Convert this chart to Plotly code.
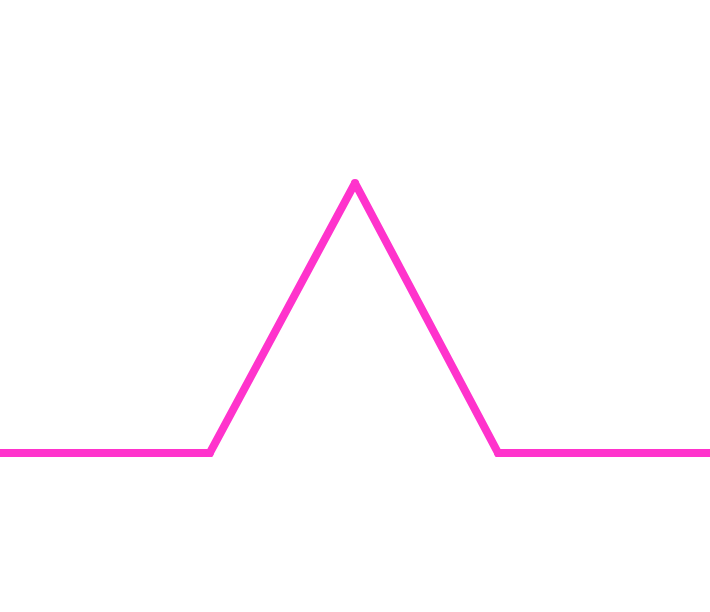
import plotly.graph_objects as go

x_vals = [-1.0, -0.409, 0.0, 0.403, 1.0]
y_vals = [0, 0, 1, 0, 0]

fig = go.Figure(go.Scatter(x=x_vals, y=y_vals, mode="lines+markers",
                           line=dict(color="#ff33cc", width=8),
                           marker=dict(color="#ff33cc", size=8, line=dict(width=0))))
fig.update_layout(width=710, height=612, margin=dict(l=0, r=0, t=0, b=0),
                  paper_bgcolor="white", plot_bgcolor="white", showlegend=False)
fig.update_xaxes(visible=False, range=[-1, 1])
fig.update_yaxes(visible=False, range=[-0.589, 1.678])
fig.write_html("out.html", config={"displayModeBar": False},
               post_script="document.body.style.margin='0';")
